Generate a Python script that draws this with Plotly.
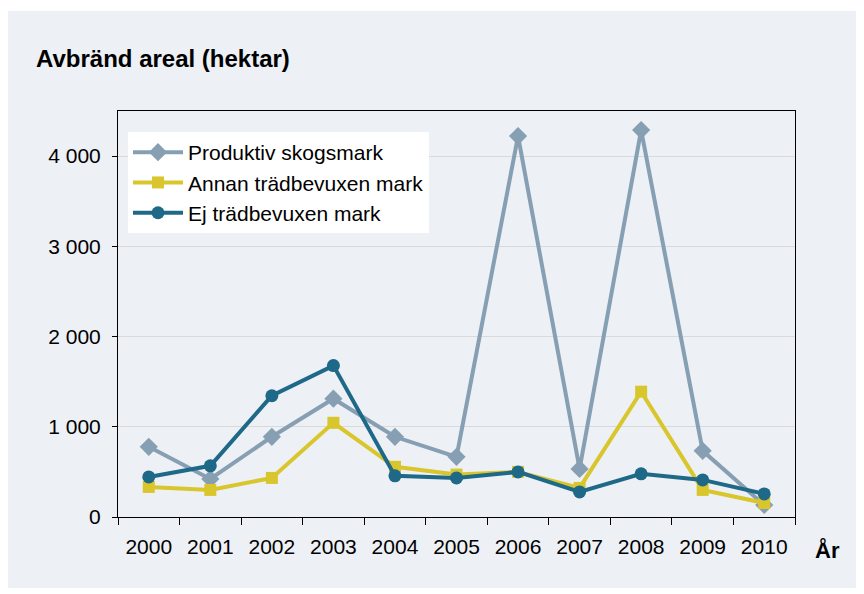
import plotly.graph_objects as go

years = ["2000", "2001", "2002", "2003", "2004", "2005", "2006", "2007", "2008", "2009", "2010"]
produktiv = [778, 422, 889, 1311, 889, 667, 4222, 533, 4289, 733, 133]
annan = [333, 300, 433, 1044, 556, 470, 500, 322, 1389, 300, 156]
ej = [444, 567, 1344, 1678, 456, 433, 500, 278, 478, 411, 256]

names = ["Produktiv skogsmark", "Annan trädbevuxen mark", "Ej trädbevuxen mark"]
colors = ["#879fb3", "#d9c62c", "#1e6888"]
symbols = ["diamond", "square", "circle"]
sizes = [14, 12, 13]

FONT = "Liberation Sans, Arial, sans-serif"

fig = go.Figure()
for vals, nm, c, s, sz in zip([produktiv, annan, ej], names, colors, symbols, sizes):
    fig.add_trace(go.Scatter(
        x=years, y=vals, name=nm, mode="lines+markers",
        line=dict(color=c, width=4),
        marker=dict(symbol=s, size=sz, color=c),
    ))

# page body has an 8px margin; work in screen pixels and subtract it
OFF = 8
SW, SH = 864, 594
W, H = SW - OFF, SH - OFF
L, R, T, B = 118 - OFF, 795 - OFF, 111 - OFF, 517 - OFF
pw, ph = R - L, B - T

def px(x):
    return (x - OFF - L) / pw

def py(y):
    return (B - (y - OFF)) / ph

fig.update_layout(
    width=W, height=H,
    margin=dict(l=L, r=W - R, t=T, b=H - B, pad=0),
    paper_bgcolor="white",
    plot_bgcolor="white",
    separators=", ",
    font=dict(family=FONT, size=21, color="black"),
    showlegend=True,
    legend=dict(
        x=px(128), y=py(132), xanchor="left", yanchor="top",
        bgcolor="white", borderwidth=0,
        font=dict(family=FONT, size=21, color="black"),
        itemwidth=50, tracegroupgap=0,
    ),
    shapes=[dict(
        type="rect", xref="paper", yref="paper", layer="below",
        x0=px(8), x1=px(880), y0=py(588), y1=py(11),
        fillcolor="#edf0f5", line=dict(width=0),
    )],
    annotations=[
        dict(text="<b>Avbränd areal (hektar)</b>", xref="paper", yref="paper",
             x=px(34), y=py(59), xanchor="left", yanchor="middle",
             showarrow=False, font=dict(family=FONT, size=24, color="black")),
        dict(text="<b>År</b>", xref="paper", yref="paper",
             x=px(827), y=py(550), xanchor="center", yanchor="middle",
             showarrow=False, font=dict(family=FONT, size=22, color="black")),
    ],
)

fig.update_xaxes(
    type="category", range=[-0.5, 10.5],
    tickson="boundaries", ticks="outside", ticklen=7, tickcolor="black",
    showline=True, linecolor="black", linewidth=1, mirror=True,
    showgrid=False, ticklabelstandoff=11,
    tickfont=dict(family=FONT, size=21, color="black"),
)
fig.update_yaxes(
    range=[0, 4500], tickvals=[0, 1000, 2000, 3000, 4000], tickformat=",d",
    ticks="outside", ticklen=5, tickcolor="black",
    showline=True, linecolor="black", linewidth=1, mirror=True,
    showgrid=True, gridcolor="#d9d9d9", gridwidth=1, zeroline=False,
    ticklabelstandoff=7,
    tickfont=dict(family=FONT, size=21, color="black"),
)

fig.write_html("out.html")
